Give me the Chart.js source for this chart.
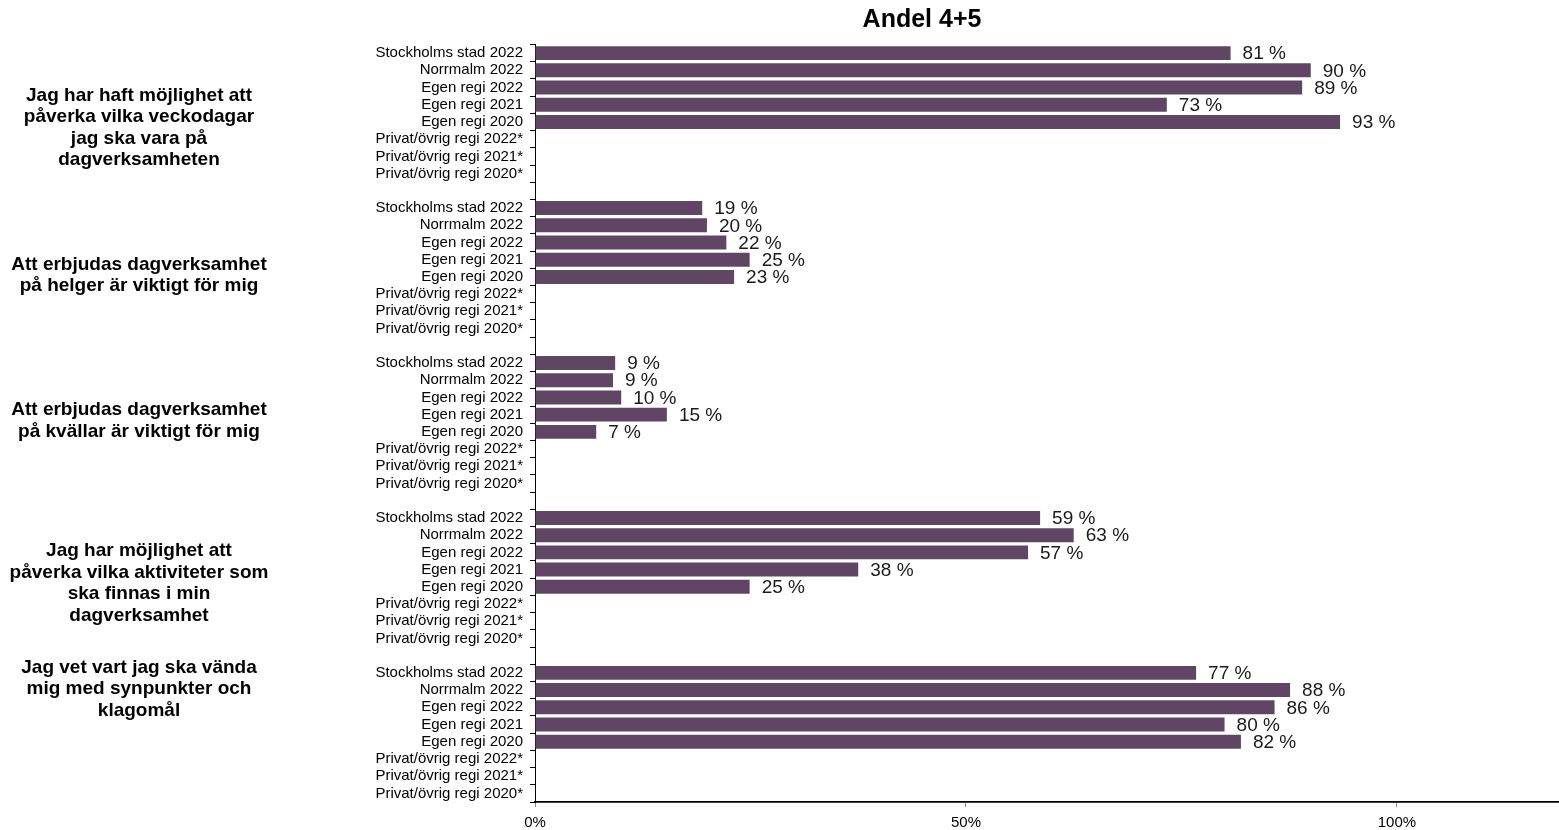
<!DOCTYPE html>
<html>
<head>
<meta charset="utf-8">
<script src="https://cdn.jsdelivr.net/npm/chart.js@4/dist/chart.umd.min.js"></script>
<style>
  html, body { margin: 0; padding: 0; background: #fff; }
  #wrap { width: 1559px; height: 830px; position: relative; }
</style>
</head>
<body>
<div id="wrap"><canvas id="c"></canvas></div>
<script>
// ---- Data ----
const rowLabels = [
  'Stockholms stad 2022', 'Norrmalm 2022', 'Egen regi 2022', 'Egen regi 2021',
  'Egen regi 2020', 'Privat/övrig regi 2022*', 'Privat/övrig regi 2021*', 'Privat/övrig regi 2020*'
];
const groupTitles = [
  ['Jag har haft möjlighet att', 'påverka vilka veckodagar', 'jag ska vara på', 'dagverksamheten'],
  ['Att erbjudas dagverksamhet', 'på helger är viktigt för mig'],
  ['Att erbjudas dagverksamhet', 'på kvällar är viktigt för mig'],
  ['Jag har möjlighet att', 'påverka vilka aktiviteter som', 'ska finnas i min', 'dagverksamhet'],
  ['Jag vet vart jag ska vända', 'mig med synpunkter och', 'klagomål']
];
const valuesVeckodagar  = [80.7, 90.0, 89.0, 73.3, 93.4, null, null, null];
const valuesHelger      = [19.4, 19.95, 22.2, 24.9, 23.1, null, null, null];
const valuesKvallar     = [9.3, 9.05, 10.0, 15.3, 7.1, null, null, null];
const valuesAktiviteter = [58.6, 62.5, 57.2, 37.5, 24.9, null, null, null];
const valuesSynpunkter  = [76.7, 87.6, 85.8, 80.0, 81.9, null, null, null];
const xTickValues = [0, 50, 100];
const chartTitle = 'Andel 4+5';

// ---- Build category table (one blank row between groups) ----
const groups = [valuesVeckodagar, valuesHelger, valuesKvallar, valuesAktiviteter, valuesSynpunkter];
const labels = [];
const data = [];
groups.forEach((vals, gi) => {
  rowLabels.forEach((l, i) => { labels.push(l); data.push(vals[i]); });
  if (gi < groups.length - 1) { labels.push(''); data.push(null); }
});

// ---- Layout (not data) ----
const FONT = '"Liberation Sans", Arial, sans-serif';
const groupLabelShift = [0.85, 0.4, -0.15, 0.3, -2.55]; // in rows
const groupLabelX = 139;
const titleX = 922, titleY = 20;

const barLabels = {
  id: 'barLabels',
  afterDatasetsDraw(chart) {
    const ctx = chart.ctx;
    const meta = chart.getDatasetMeta(0);
    ctx.save();
    ctx.font = '19px ' + FONT;
    ctx.fillStyle = '#1a1a1a';
    ctx.textAlign = 'left';
    ctx.textBaseline = 'middle';
    meta.data.forEach((bar, i) => {
      const v = data[i];
      if (v === null || v === undefined) return;
      ctx.fillText(Math.round(v) + ' %', bar.x + 12, bar.y + 1);
    });
    ctx.restore();
  }
};

const groupText = {
  id: 'groupText',
  afterDraw(chart) {
    const ctx = chart.ctx;
    const y = chart.scales.y;
    const rowH = Math.abs(y.getPixelForValue(1) - y.getPixelForValue(0));
    ctx.save();
    ctx.font = 'bold 19px ' + FONT;
    ctx.fillStyle = '#000';
    ctx.textAlign = 'center';
    ctx.textBaseline = 'middle';
    const lh = 21.5;
    groupTitles.forEach((lines, gi) => {
      const start = gi * 9;
      const c = (y.getPixelForValue(start) + y.getPixelForValue(start + 7)) / 2 + groupLabelShift[gi] * rowH;
      const top = c - (lines.length - 1) * lh / 2;
      lines.forEach((t, k) => ctx.fillText(t, groupLabelX, top + k * lh));
    });
    ctx.font = 'bold 25px ' + FONT;
    ctx.fillText(chartTitle, titleX, titleY);
    ctx.restore();
  }
};

new Chart(document.getElementById('c'), {
  type: 'bar',
  data: {
    labels: labels,
    datasets: [{
      data: data,
      backgroundColor: '#604664',
      borderWidth: 0,
      barPercentage: 0.81,
      categoryPercentage: 1.0
    }]
  },
  options: {
    indexAxis: 'y',
    responsive: true,
    maintainAspectRatio: false,
    animation: false,
    devicePixelRatio: 1,
    layout: { padding: { top: 44.5, right: 0, bottom: 0, left: 0 } },
    plugins: { legend: { display: false }, tooltip: { enabled: false }, title: { display: false } },
    scales: {
      x: {
        type: 'linear',
        min: 0,
        max: 118.8,
        afterBuildTicks(scale) { scale.ticks = xTickValues.map(v => ({ value: v })); },
        afterFit(scale) { scale.height = 28; },
        grid: { drawOnChartArea: false, drawTicks: true, tickLength: 5, color: '#888' },
        border: { display: true, color: '#000', width: 1.8 },
        ticks: {
          color: '#000',
          font: { family: FONT, size: 15 },
          padding: 7,
          maxRotation: 0,
          callback: v => v + '%'
        }
      },
      y: {
        afterFit(scale) { scale.width = 535; },
        grid: { drawOnChartArea: false, drawTicks: true, tickLength: 5, color: '#000', offset: true },
        border: { display: true, color: '#000', width: 1 },
        ticks: {
          color: '#000',
          font: { family: FONT, size: 15 },
          padding: 7,
          autoSkip: false
        }
      }
    }
  },
  plugins: [barLabels, groupText]
});
</script>
</body>
</html>
